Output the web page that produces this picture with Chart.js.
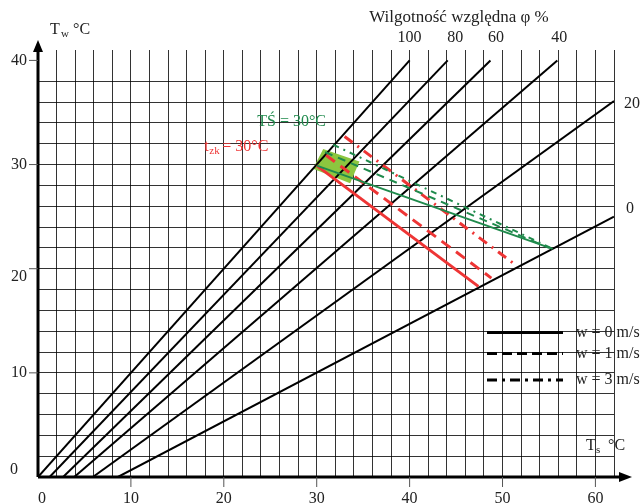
<!DOCTYPE html>
<html lang="pl">
<head>
<meta charset="UTF-8">
<title>Wykres Tw - Ts</title>
<script src="https://cdn.jsdelivr.net/npm/chart.js"></script>
<style>
  html, body { margin: 0; padding: 0; background: #fff; }
  #wrap { width: 643px; height: 504px; }
</style>
</head>
<body>
<div id="wrap"><canvas id="chart" width="643" height="504"></canvas></div>
<script>
    // linie stałej wilgotności względnej (phi %)
    const rhLabels = ['100', '80', '60', '40', '20', '0'];
    const rhStartX = [0, 1.25, 2.7, 3.9, 5.9, 8.6];
    const rhEndX = [40, 44.1, 48.7, 55.9, 62, 62];
    const rhEndY = [40, 40, 40, 40, 36.1, 25.0];

    // tzk = 30°C (czerwone) dla w = 0, 1, 3 m/s
    const redW0 = [{x: 30.0, y: 29.9}, {x: 47.4, y: 18.3}];
    const redW1 = [{x: 31.0, y: 30.9}, {x: 48.8, y: 19.1}];
    const redW3 = [{x: 33.0, y: 32.7}, {x: 51.5, y: 20.3}];

    // TŚ = 30°C (zielone) dla w = 0, 1, 3 m/s
    const greenW0 = [{x: 30.0, y: 29.9}, {x: 55.4, y: 21.9}];
    const greenW1 = [{x: 30.9, y: 31.2}, {x: 55.0, y: 22.0}];
    const greenW3 = [{x: 31.8, y: 31.9}, {x: 55.2, y: 22.0}];

    // obszar komfortu (zielona plama)
    const blob = [{x: 30.7, y: 31.5}, {x: 34.6, y: 30.3}, {x: 33.6, y: 28.2}, {x: 29.6, y: 29.6}];

    const xTickLabels = [0, 10, 20, 30, 40, 50, 60];
    const yTickLabels = [0, 10, 20, 30, 40];
    const legendLabels = ['w = 0 m/s', 'w = 1 m/s', 'w = 3 m/s'];

    const RED = '#ee3535';
    const GREEN = '#1f8a4c';
    const SERIF = '"Liberation Serif", "DejaVu Serif", serif';

    const datasets = [];
    rhLabels.forEach((lab, i) => {
        datasets.push({
            label: 'phi ' + lab,
            data: [{x: rhStartX[i], y: 0}, {x: rhEndX[i], y: rhEndY[i]}],
            borderColor: '#000', borderWidth: 2, showLine: true, pointRadius: 0, order: 5
        });
    });
    const redSets = [[redW0, []], [redW1, [11, 7]], [redW3, [10, 6, 2, 6]]];
    redSets.forEach(([d, dash], i) => {
        datasets.push({
            label: 'tzk w' + i, data: d, borderColor: RED, borderWidth: 3,
            borderDash: dash, showLine: true, pointRadius: 0, order: 2
        });
    });
    const greenSets = [[greenW0, []], [greenW1, [8, 6]], [greenW3, [6, 5, 2, 5]]];
    greenSets.forEach(([d, dash], i) => {
        datasets.push({
            label: 'TS w' + i, data: d, borderColor: GREEN, borderWidth: 2,
            borderDash: dash, showLine: true, pointRadius: 0, order: 1
        });
    });

    function txt(ctx, s, x, y, size, color, align) {
        ctx.font = size + 'px ' + SERIF;
        ctx.fillStyle = color || '#222';
        ctx.textAlign = align || 'center';
        ctx.textBaseline = 'middle';
        ctx.fillText(s, x, y);
    }

    const blobPlugin = {
        id: 'blob',
        beforeDatasetsDraw(chart) {
            const {ctx, scales: {x, y}} = chart;
            ctx.save();
            ctx.beginPath();
            blob.forEach((p, i) => {
                const px = x.getPixelForValue(p.x), py = y.getPixelForValue(p.y);
                if (i === 0) ctx.moveTo(px, py); else ctx.lineTo(px, py);
            });
            ctx.closePath();
            ctx.fillStyle = '#8cc63f';
            ctx.fill();
            ctx.restore();
        }
    };

    const decorPlugin = {
        id: 'decor',
        afterDraw(chart) {
            const {ctx, chartArea: a, scales: {x, y}} = chart;
            ctx.save();
            const x0 = x.getPixelForValue(0), y0 = y.getPixelForValue(0);

            // osie ze strzałkami
            ctx.strokeStyle = '#000';
            ctx.fillStyle = '#000';
            ctx.lineWidth = 3;
            ctx.beginPath();
            ctx.moveTo(x0, y0); ctx.lineTo(a.right + 8, y0);
            ctx.moveTo(x0, y0); ctx.lineTo(x0, a.top - 3);
            ctx.stroke();
            ctx.beginPath();
            ctx.moveTo(a.right + 18, y0); ctx.lineTo(a.right + 5, y0 - 5); ctx.lineTo(a.right + 5, y0 + 5);
            ctx.closePath(); ctx.fill();
            ctx.beginPath();
            ctx.moveTo(x0, a.top - 10); ctx.lineTo(x0 - 5, a.top + 2); ctx.lineTo(x0 + 5, a.top + 2);
            ctx.closePath(); ctx.fill();

            // podziałki i etykiety osi
            ctx.lineWidth = 1;
            ctx.strokeStyle = '#555';
            xTickLabels.forEach(v => {
                const px = x.getPixelForValue(v);
                if (v > 0) {
                    ctx.beginPath(); ctx.moveTo(px, y0); ctx.lineTo(px, y0 + 10); ctx.stroke();
                }
                txt(ctx, String(v), v === 0 ? px + 4 : px, y0 + 22, 16, '#222');
            });
            yTickLabels.forEach(v => {
                const py = y.getPixelForValue(v);
                if (v > 0) {
                    ctx.beginPath(); ctx.moveTo(x0 - 9, py); ctx.lineTo(x0, py); ctx.stroke();
                    txt(ctx, String(v), 19, v === 20 ? py + 8 : py, 16, '#222');
                } else {
                    txt(ctx, '0', 14, py - 7, 16, '#222');
                }
            });

            // opisy osi
            txt(ctx, 'T', 50, 30, 16, '#222', 'left');
            txt(ctx, 'w', 61, 34, 11, '#222', 'left');
            txt(ctx, '°C', 73, 30, 16, '#222', 'left');
            txt(ctx, 'T', 586, 446, 16, '#222', 'left');
            txt(ctx, 's', 596, 450, 11, '#222', 'left');
            txt(ctx, '°C', 608, 446, 16, '#222', 'left');

            // wilgotność względna
            txt(ctx, 'Wilgotność względna φ %', 459, 18, 17, '#222');
            const topX = [40, 44.9, 49.3, 56.1];
            rhLabels.slice(0, 4).forEach((lab, i) => {
                txt(ctx, lab, x.getPixelForValue(topX[i]), 38, 16, '#222');
            });
            txt(ctx, rhLabels[4], 632, y.getPixelForValue(35.8), 16, '#222');
            txt(ctx, rhLabels[5], 630, y.getPixelForValue(25.8), 16, '#222');

            // opisy linii
            txt(ctx, 'TŚ = 30°C', x.getPixelForValue(27.3), y.getPixelForValue(34.15), 16, GREEN);
            const tx = x.getPixelForValue(17.9), ty = y.getPixelForValue(31.7);
            txt(ctx, 't', tx, ty, 16, RED, 'left');
            txt(ctx, 'zk', tx + 5, ty + 4, 11, RED, 'left');
            txt(ctx, '= 30°C', tx + 18, ty, 16, RED, 'left');

            // legenda
            const dashes = [[], [10, 5], [10, 5, 3, 5]];
            const legY = [332.5, 353.5, 380];
            ctx.strokeStyle = '#000';
            ctx.lineWidth = 3;
            legendLabels.forEach((lab, i) => {
                ctx.setLineDash(dashes[i]);
                ctx.beginPath(); ctx.moveTo(487, legY[i]); ctx.lineTo(563, legY[i]); ctx.stroke();
                ctx.setLineDash([]);
                txt(ctx, lab, 576, legY[i], 16, '#222', 'left');
            });
            ctx.restore();
        }
    };

    new Chart(document.getElementById('chart'), {
        type: 'scatter',
        data: { datasets },
        options: {
            responsive: false,
            animation: false,
            layout: { padding: { left: 38, right: 29, top: 50, bottom: 27 } },
            plugins: { legend: { display: false }, tooltip: { enabled: false } },
            scales: {
                x: {
                    type: 'linear', min: 0, max: 62,
                    ticks: { display: false, stepSize: 2 },
                    grid: { color: 'rgba(0,0,0,0.8)', lineWidth: 1, drawTicks: false },
                    border: { display: false }
                },
                y: {
                    type: 'linear', min: 0, max: 41,
                    afterBuildTicks: s => { s.ticks = s.ticks.filter(t => t.value % 2 === 0); },
                    ticks: { display: false, stepSize: 2 },
                    grid: { color: 'rgba(0,0,0,0.8)', lineWidth: 1, drawTicks: false },
                    border: { display: false }
                }
            }
        },
        plugins: [blobPlugin, decorPlugin]
    });
</script>
</body>
</html>
